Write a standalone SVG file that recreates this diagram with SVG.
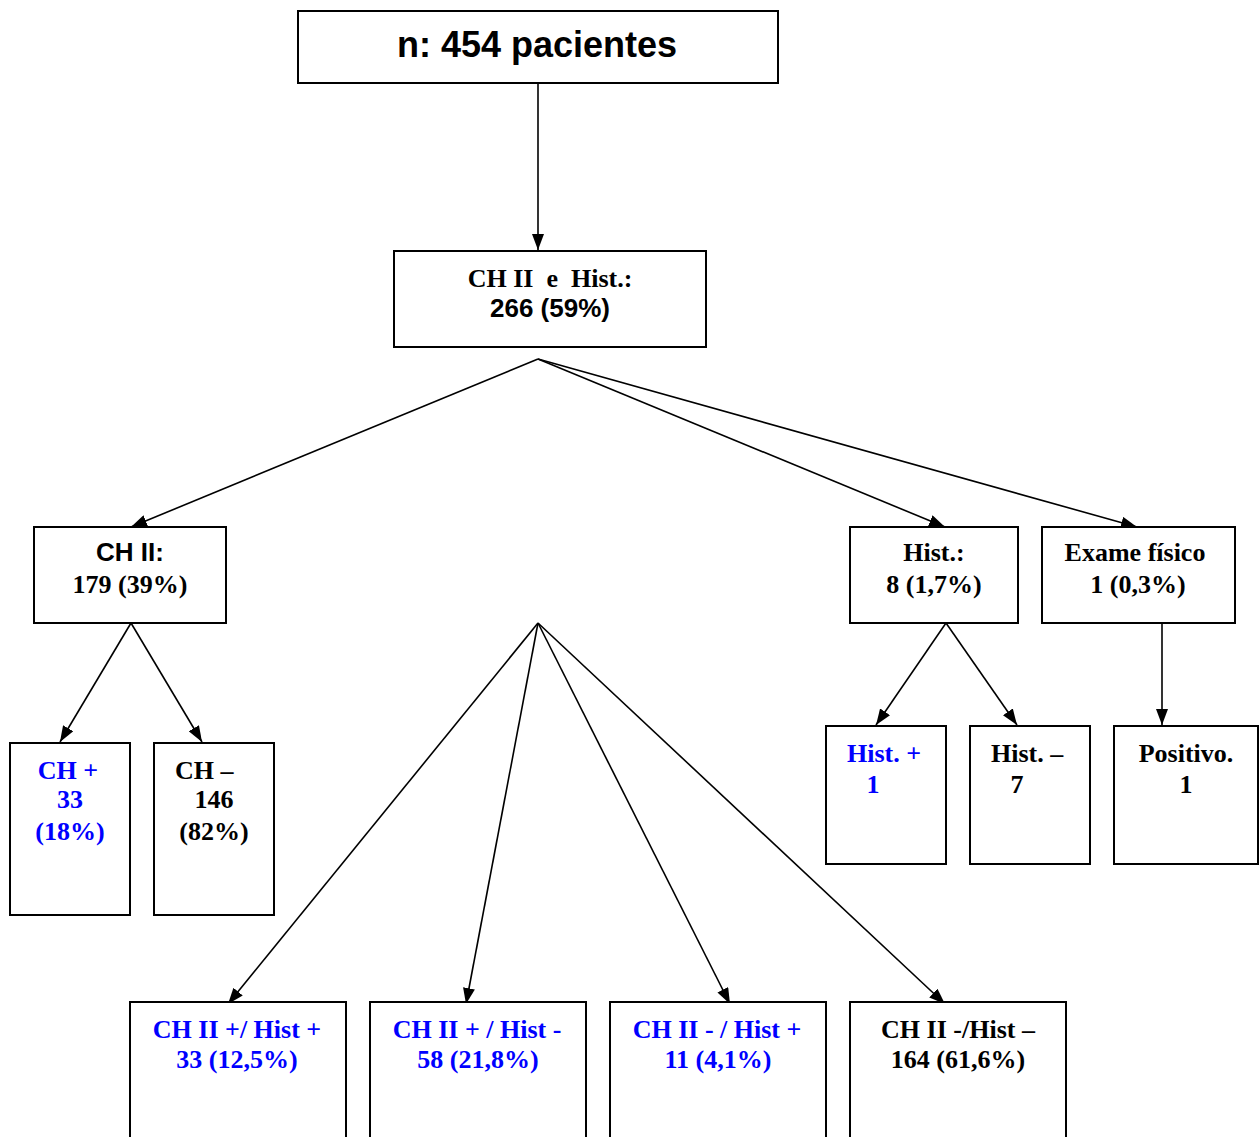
<svg xmlns="http://www.w3.org/2000/svg" width="1260" height="1137" viewBox="0 0 1260 1137">
<style>
.box{fill:#fff;stroke:#000;stroke-width:2}
.t{font-family:"Liberation Serif",serif;font-weight:bold;font-size:26px;fill:#000}
.a{font-family:"Liberation Sans",sans-serif;font-weight:bold;font-size:26px;fill:#000}
.b{fill:#0000ff}
.c{text-anchor:middle}
.pl{stroke:#000;stroke-width:1.6;fill:none}
</style>
<defs>
<marker id="ar" viewBox="0 0 16 12" refX="16" refY="6" markerWidth="16" markerHeight="12" markerUnits="userSpaceOnUse" orient="auto">
<path d="M0,0 L16,6 L0,12 z" fill="#000"/>
</marker>
</defs>
<rect width="1260" height="1137" fill="#fff"/>
<g id="connectors">
<line class="pl" x1="538" y1="83" x2="538" y2="250" marker-end="url(#ar)"/>
<line class="pl" x1="538" y1="359" x2="131" y2="527" marker-end="url(#ar)"/>
<line class="pl" x1="538" y1="359" x2="945" y2="527" marker-end="url(#ar)"/>
<line class="pl" x1="538" y1="359" x2="1137" y2="527" marker-end="url(#ar)"/>
<line class="pl" x1="131" y1="623" x2="60" y2="742" marker-end="url(#ar)"/>
<line class="pl" x1="131" y1="623" x2="202" y2="742" marker-end="url(#ar)"/>
<line class="pl" x1="538" y1="623" x2="228" y2="1004" marker-end="url(#ar)"/>
<line class="pl" x1="538" y1="623" x2="466" y2="1004" marker-end="url(#ar)"/>
<line class="pl" x1="538" y1="623" x2="730" y2="1004" marker-end="url(#ar)"/>
<line class="pl" x1="538" y1="623" x2="945" y2="1004" marker-end="url(#ar)"/>
<line class="pl" x1="946" y1="623" x2="876" y2="725" marker-end="url(#ar)"/>
<line class="pl" x1="946" y1="623" x2="1017" y2="725" marker-end="url(#ar)"/>
<line class="pl" x1="1162" y1="623" x2="1162" y2="725" marker-end="url(#ar)"/>
</g>
<g id="n-total">
<rect class="box" x="298" y="11" width="480" height="72"/>
<text class="a c" x="537" y="57" style="font-size:36px">n: 454 pacientes</text>
</g>
<g id="n-chhist">
<rect class="box" x="394" y="251" width="312" height="96"/>
<text class="t c" x="550" y="287" xml:space="preserve">CH II  e  Hist.:</text>
<text class="a c" x="550" y="317">266 (59%)</text>
</g>
<g id="n-ch">
<rect class="box" x="34" y="527" width="192" height="96"/>
<text class="a c" x="130" y="561">CH II:</text>
<text class="t c" x="130" y="593">179 (39%)</text>
</g>
<g id="n-hist">
<rect class="box" x="850" y="527" width="168" height="96"/>
<text class="t c" x="934" y="561">Hist.:</text>
<text class="t c" x="934" y="593">8 (1,7%)</text>
</g>
<g id="n-exame">
<rect class="box" x="1042" y="527" width="193" height="96"/>
<text class="t c" x="1135" y="561">Exame físico</text>
<text class="t c" x="1138" y="593">1 (0,3%)</text>
</g>
<g id="n-chpos">
<rect class="box" x="10" y="743" width="120" height="172"/>
<text class="t c b" x="68" y="779">CH +</text>
<text class="t c b" x="70" y="808">33</text>
<text class="t c b" x="70" y="840">(18%)</text>
</g>
<g id="n-chneg">
<rect class="box" x="154" y="743" width="120" height="172"/>
<text class="t" x="175" y="779">CH –</text>
<text class="t c" x="214" y="808">146</text>
<text class="t c" x="214" y="840">(82%)</text>
</g>
<g id="n-histpos">
<rect class="box" x="826" y="726" width="120" height="138"/>
<text class="t b" x="847" y="762">Hist. +</text>
<text class="t c b" x="873" y="793">1</text>
</g>
<g id="n-histneg">
<rect class="box" x="970" y="726" width="120" height="138"/>
<text class="t" x="991" y="762">Hist. –</text>
<text class="t c" x="1017" y="793">7</text>
</g>
<g id="n-positivo">
<rect class="box" x="1114" y="726" width="144" height="138"/>
<text class="t c" x="1186" y="762">Positivo.</text>
<text class="t c" x="1186" y="793">1</text>
</g>
<g id="n-pp">
<rect class="box" x="130" y="1002" width="216" height="145"/>
<text class="t c b" x="237" y="1038">CH II +/ Hist +</text>
<text class="t c b" x="237" y="1068">33 (12,5%)</text>
</g>
<g id="n-pn">
<rect class="box" x="370" y="1002" width="216" height="145"/>
<text class="t c b" x="477" y="1038">CH II + / Hist -</text>
<text class="t c b" x="478" y="1068">58 (21,8%)</text>
</g>
<g id="n-np">
<rect class="box" x="610" y="1002" width="216" height="145"/>
<text class="t c b" x="717" y="1038">CH II - / Hist +</text>
<text class="t c b" x="718" y="1068">11 (4,1%)</text>
</g>
<g id="n-nn">
<rect class="box" x="850" y="1002" width="216" height="145"/>
<text class="t c" x="958" y="1038">CH II -/Hist –</text>
<text class="t c" x="958" y="1068">164 (61,6%)</text>
</g>
</svg>
